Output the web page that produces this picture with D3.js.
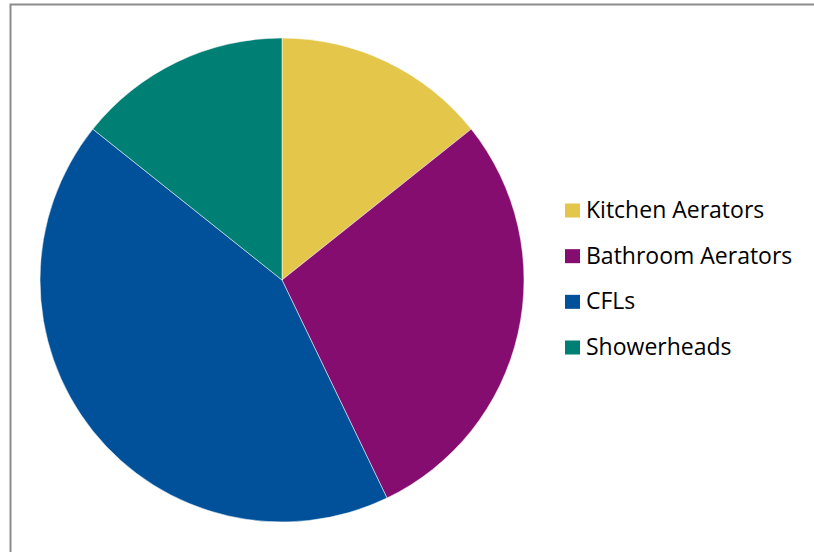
<!DOCTYPE html>
<html>
<head>
<meta charset="utf-8">
<script src="https://cdn.jsdelivr.net/npm/d3@7"></script>
<style>
  body { margin: 0; background: #fff; }
  svg { display: block; }
</style>
</head>
<body>
<svg id="chart"></svg>
<script>
let w = 814;
let h = 552;
let categories = ["Kitchen Aerators", "Bathroom Aerators", "CFLs", "Showerheads"];
let values = [1, 2, 3, 1];
let colors = ["#E4C64B", "#840D6F", "#00519A", "#008075"];

let cx = 282;
let cy = 280;
let r = 242;

let svg = d3.select("#chart")
            .attr("width", w)
            .attr("height", h)

// chart area frame
svg.append("rect")
   .attr("x", 10.5)
   .attr("y", 4.5)
   .attr("width", w + 10)
   .attr("height", h + 10)
   .attr("fill", "#fff")
   .attr("stroke", "#8c8c8c")
   .attr("stroke-width", 2)

let data = categories.map((c, i) => ({ name: c, value: values[i] }));

let colorScale = d3.scaleOrdinal()
                   .domain(categories)
                   .range(colors)

let pie = d3.pie()
            .value((d) => d.value)
            .sort(null)

let arc = d3.arc()
            .innerRadius(0)
            .outerRadius(r)

svg.append("g")
   .attr("transform", `translate(${cx}, ${cy})`)
   .selectAll("path")
   .data(pie(data))
   .enter()
   .append("path")
   .attr("d", arc)
   .attr("fill", (d) => colorScale(d.data.name))
   .attr("stroke", "#fff")
   .attr("stroke-width", 0.5)

let legendY = d3.scalePoint()
                .domain(categories)
                .range([210.5, 347.5])

let legend = svg.append("g")
                .selectAll("g")
                .data(categories)
                .enter()
                .append("g")
                .attr("transform", (d) => `translate(565, ${legendY(d)})`)

legend.append("rect")
      .attr("x", 0)
      .attr("y", -7)
      .attr("width", 15)
      .attr("height", 14)
      .attr("fill", (d) => colorScale(d))

legend.append("text")
      .attr("x", 21)
      .attr("y", 7.5)
      .attr("font-family", "'Open Sans', sans-serif")
      .attr("font-size", 23)
      .attr("fill", "#000")
      .text((d) => d)
</script>
</body>
</html>
